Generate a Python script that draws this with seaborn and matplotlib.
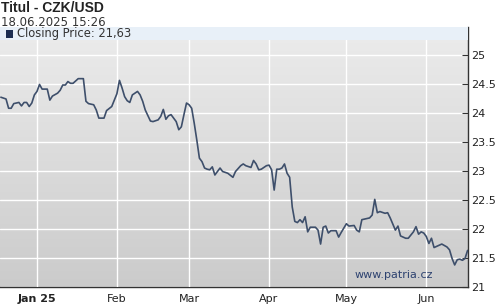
import numpy as np
import pandas as pd
import matplotlib
matplotlib.use("Agg")
import matplotlib.pyplot as plt
from matplotlib.patches import Rectangle
import seaborn as sns

# ---- data ----
dates = [
    "2024-12-18", "2024-12-20", "2024-12-21", "2024-12-22", "2024-12-23", "2024-12-25",
    "2024-12-26", "2024-12-27", "2024-12-28", "2024-12-29", "2024-12-30", "2024-12-31",
    "2025-01-01", "2025-01-02", "2025-01-03", "2025-01-05", "2025-01-06", "2025-01-07",
    "2025-01-09", "2025-01-10", "2025-01-11", "2025-01-12", "2025-01-13", "2025-01-14",
    "2025-01-15", "2025-01-17", "2025-01-19", "2025-01-20", "2025-01-21", "2025-01-23",
    "2025-01-24", "2025-01-25", "2025-01-26", "2025-01-27", "2025-01-28", "2025-01-30",
    "2025-01-31", "2025-02-01", "2025-02-02", "2025-02-03", "2025-02-04", "2025-02-05",
    "2025-02-06", "2025-02-07", "2025-02-08", "2025-02-09", "2025-02-10", "2025-02-11",
    "2025-02-12", "2025-02-14", "2025-02-15", "2025-02-17", "2025-02-18", "2025-02-19",
    "2025-02-20", "2025-02-21", "2025-02-22", "2025-02-23", "2025-02-24", "2025-02-25",
    "2025-02-26", "2025-02-27", "2025-02-28", "2025-03-01", "2025-03-02", "2025-03-03",
    "2025-03-04", "2025-03-05", "2025-03-06", "2025-03-07", "2025-03-08", "2025-03-09",
    "2025-03-10", "2025-03-11", "2025-03-12", "2025-03-13", "2025-03-14", "2025-03-16",
    "2025-03-18", "2025-03-19", "2025-03-21", "2025-03-22", "2025-03-23", "2025-03-25",
    "2025-03-26", "2025-03-27", "2025-03-28", "2025-03-29", "2025-03-31", "2025-04-01",
    "2025-04-02", "2025-04-03", "2025-04-04", "2025-04-05", "2025-04-06", "2025-04-07",
    "2025-04-08", "2025-04-09", "2025-04-10", "2025-04-11", "2025-04-12", "2025-04-13",
    "2025-04-14", "2025-04-15", "2025-04-16", "2025-04-17", "2025-04-19", "2025-04-20",
    "2025-04-21", "2025-04-22", "2025-04-23", "2025-04-24", "2025-04-25", "2025-04-27",
    "2025-04-28", "2025-04-29", "2025-05-01", "2025-05-02", "2025-05-04", "2025-05-05",
    "2025-05-06", "2025-05-07", "2025-05-08", "2025-05-10", "2025-05-11", "2025-05-12",
    "2025-05-13", "2025-05-14", "2025-05-16", "2025-05-17", "2025-05-18", "2025-05-20",
    "2025-05-21", "2025-05-22", "2025-05-24", "2025-05-25", "2025-05-27", "2025-05-28",
    "2025-05-29", "2025-05-30", "2025-05-31", "2025-06-01", "2025-06-02", "2025-06-03",
    "2025-06-04", "2025-06-06", "2025-06-07", "2025-06-09", "2025-06-10", "2025-06-11",
    "2025-06-12", "2025-06-13", "2025-06-14", "2025-06-15", "2025-06-16", "2025-06-17",
]
closing_price = [
    24.27, 24.24, 24.08, 24.08, 24.16, 24.18,
    24.12, 24.18, 24.18, 24.11, 24.17, 24.31,
    24.37, 24.49, 24.41, 24.41, 24.22, 24.29,
    24.34, 24.39, 24.48, 24.48, 24.54, 24.51,
    24.51, 24.59, 24.59, 24.20, 24.16, 24.14,
    24.05, 23.91, 23.91, 23.91, 24.04, 24.11,
    24.22, 24.33, 24.56, 24.43, 24.28, 24.21,
    24.18, 24.31, 24.34, 24.37, 24.31, 24.20,
    24.05, 23.86, 23.85, 23.88, 23.94, 24.06,
    23.89, 23.95, 23.97, 23.91, 23.85, 23.71,
    23.76, 23.97, 24.17, 24.14, 24.08, 23.82,
    23.53, 23.22, 23.16, 23.05, 23.03, 23.02,
    23.07, 22.93, 22.99, 23.05, 22.99, 22.96,
    22.89, 22.99, 23.09, 23.12, 23.09, 23.06,
    23.18, 23.12, 23.02, 23.03, 23.09, 23.10,
    23.02, 22.67, 23.03, 23.03, 23.05, 23.12,
    22.96, 22.89, 22.38, 22.13, 22.11, 22.16,
    22.11, 22.21, 21.95, 22.03, 22.03, 21.98,
    21.74, 22.03, 22.05, 21.93, 21.97, 21.97,
    21.86, 21.94, 22.09, 22.05, 22.06, 21.98,
    21.95, 22.16, 22.17, 22.19, 22.24, 22.51,
    22.28, 22.30, 22.27, 22.28, 22.19, 21.98,
    22.05, 21.88, 21.84, 21.84, 21.95, 22.04,
    21.91, 21.95, 21.93, 21.87, 21.75, 21.84,
    21.68, 21.72, 21.74, 21.69, 21.64, 21.49,
    21.38, 21.47, 21.48, 21.46, 21.49, 21.63,
]
month_ticks = ["2025-01-01", "2025-02-01", "2025-03-01", "2025-04-01", "2025-05-01", "2025-06-01"]
month_labels = ["Jan 25", "Feb", "Mar", "Apr", "May", "Jun"]
y_ticks = [21, 21.5, 22, 22.5, 23, 23.5, 24, 24.5, 25]

title = "Titul - CZK/USD"
timestamp = "18.06.2025 15:26"
legend_label = "Closing Price: 21,63"
watermark = "www.patria.cz"

df = pd.DataFrame({"date": pd.to_datetime(dates), "price": closing_price})

sns.set_theme(style="white")
plt.rcParams["font.family"] = ["DejaVu Sans"]

W, H = 500, 308
fig = plt.figure(figsize=(W / 100, H / 100), dpi=100)
fig.patch.set_facecolor("white")
ax = fig.add_axes([0.0, 1 - 287 / H, 468 / W, 260 / H])

# gradient background
grad = np.linspace(0, 1, 256).reshape(-1, 1)
cmap = matplotlib.colors.LinearSegmentedColormap.from_list("bg", ["#ececec", "#cbcbcb"])
ax.imshow(grad, extent=[0, 1, 0, 1], transform=ax.transAxes, aspect="auto",
          cmap=cmap, zorder=0, interpolation="bilinear")

sns.lineplot(data=df, x="date", y="price", ax=ax, color="#3e4f6b", linewidth=1.2, zorder=3)

ax.set_xlim(pd.Timestamp("2024-12-17 16:00"), pd.Timestamp("2025-06-17 04:00"))
ax.set_ylim(21, 25.48)

ax.set_xticks(pd.to_datetime(month_ticks))
ax.set_xticklabels(month_labels)
ax.set_yticks(y_ticks)
ax.set_yticklabels([f"{v:g}" for v in y_ticks])
ax.yaxis.tick_right()
ax.set_xlabel("")
ax.set_ylabel("")

ax.grid(True, color="white", linewidth=1.0, zorder=1)
ax.set_axisbelow(False)
for gl in ax.get_xgridlines() + ax.get_ygridlines():
    gl.set_zorder(1)

for side in ["left", "top"]:
    ax.spines[side].set_visible(False)
for side in ["bottom", "right"]:
    ax.spines[side].set_color("#333333")
    ax.spines[side].set_linewidth(1.0)

ax.tick_params(axis="y", which="both", direction="in", length=4, width=0.8, color="#333333",
               labelsize=8, labelcolor="#222222", pad=2, right=True, left=False,
               labelright=True, labelleft=False)
ax.tick_params(axis="x", which="both", direction="out", length=2, width=0.8, color="#333333",
               labelsize=8, labelcolor="#222222", pad=3)
for lbl in ax.get_xticklabels():
    if lbl.get_text() == month_labels[0]:
        lbl.set_fontweight("bold")

# legend band at the top of the plot area
band_h = 13 / 260
ax.add_patch(Rectangle((0, 1 - band_h), 1, band_h, transform=ax.transAxes,
                       facecolor="#e8f0f8", edgecolor="none", zorder=4))
ax.add_patch(Rectangle((5.5 / 468, 1 - 11 / 260), 7.5 / 468, 8 / 260, transform=ax.transAxes,
                       facecolor="#1b2d52", edgecolor="none", zorder=5))
ax.text(17 / 468, 1 - 7 / 260, legend_label, transform=ax.transAxes, fontsize=8.3,
        color="#333333", va="center", ha="left", zorder=5)

ax.text(0.842, 0.045, watermark, transform=ax.transAxes, fontsize=8, color="#2d4270",
        ha="center", va="center", zorder=5)

fig.text(1 / W, 1 - 8 / H, title, fontsize=10, fontweight="bold", color="#222222",
         va="center", ha="left", family=["Liberation Sans", "DejaVu Sans"])
fig.text(1 / W, 1 - 22 / H, timestamp, fontsize=8.5, color="#333333", va="center", ha="left")

fig.savefig("out.png", dpi=100)
